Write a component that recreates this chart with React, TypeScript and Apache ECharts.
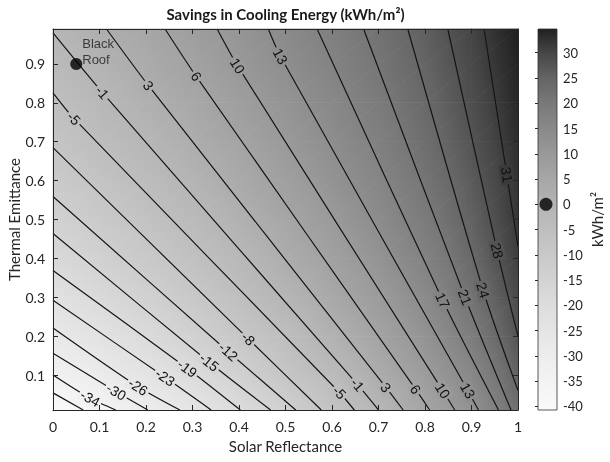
import React, { useEffect, useRef } from "react";
import * as echarts from "echarts";

// ---------- data ----------
const X_GRID = [0, 0.1, 0.2, 0.3, 0.4, 0.5, 0.6, 0.7, 0.8, 0.9, 1];
const Y_GRID = [0.01, 0.1, 0.2, 0.3, 0.4, 0.5, 0.6, 0.7, 0.8, 0.9, 0.99];
// savings (kWh/m2), one row per Y_GRID value, one column per X_GRID value
const Z_GRID = [
  [-40.6, -35.4, -30.2, -24.9, -19.3, -13.4, -7.1, -1.1, 5.5, 12.3, 22.5],
  [-33.6, -28.8, -24.1, -19.5, -13.9, -8.3, -3.4, 2.8, 8.7, 15.5, 25.2],
  [-27.5, -23.2, -18.8, -13.9, -9.0, -4.6, 0.9, 6.2, 11.9, 18.9, 27.8],
  [-22.4, -18.2, -14.0, -9.5, -5.4, -0.6, 4.3, 9.2, 14.7, 21.7, 29.4],
  [-17.9, -14.0, -10.0, -6.1, -1.9, 2.7, 7.0, 11.8, 17.2, 23.8, 31.0],
  [-14.1, -10.3, -6.7, -2.9, 1.2, 5.2, 9.5, 14.1, 19.3, 25.4, 31.9],
  [-10.7, -7.3, -3.7, 0.0, 3.8, 7.6, 11.8, 16.1, 21.1, 26.6, 32.5],
  [-7.9, -4.5, -1.0, 2.5, 5.9, 9.8, 13.7, 17.9, 22.6, 27.7, 33.1],
  [-5.3, -1.9, 1.4, 4.6, 8.1, 11.7, 15.4, 19.4, 23.8, 28.7, 33.7],
  [-2.9, 0.3, 3.4, 6.5, 10.0, 13.4, 16.9, 20.8, 24.9, 29.5, 34.3],
  [-0.9, 2.1, 5.0, 8.1, 11.3, 14.7, 18.2, 21.8, 25.8, 30.2, 34.9],
];

const CONTOUR_LEVELS = [
  -37.16, -33.55, -29.94, -26.33, -22.72, -19.11, -15.5, -11.89, -8.28, -4.67,
  -1.06, 2.55, 6.16, 9.77, 13.38, 16.99, 20.6, 24.21, 27.82, 31.43,
];
// contour paths [solar reflectance, thermal emittance]
const CONTOUR_PATHS = [
  [[0, 0.054], [0.065, 0.01]],
  [[0, 0.1], [0.08, 0.04], [0.135, 0.01]],
  [[0, 0.156], [0.136, 0.057], [0.204, 0.01]],
  [[0, 0.221], [0.183, 0.07], [0.273, 0.01]],
  [[0, 0.292], [0.241, 0.094], [0.34, 0.01]],
  [[0, 0.369], [0.289, 0.117], [0.403, 0.01]],
  [[0, 0.464], [0.336, 0.133], [0.468, 0.01]],
  [[0, 0.559], [0.377, 0.16], [0.522, 0.01]],
  [[0, 0.685], [0.42, 0.193], [0.577, 0.01]],
  [[0, 0.826], [0.045, 0.76], [0.616, 0.055], [0.648, 0.01]],
  [[0, 0.98], [0.106, 0.827], [0.655, 0.075], [0.7, 0.01]],
  [[0.115, 0.99], [0.205, 0.845], [0.716, 0.068], [0.753, 0.01]],
  [[0.241, 0.99], [0.308, 0.868], [0.78, 0.063], [0.81, 0.01]],
  [[0.353, 0.99], [0.397, 0.895], [0.838, 0.06], [0.864, 0.01]],
  [[0.463, 0.99], [0.489, 0.92], [0.892, 0.06], [0.915, 0.01]],
  [[0.568, 0.99], [0.838, 0.292], [0.958, 0.01]],
  [[0.668, 0.99], [0.886, 0.3], [0.985, 0.01]],
  [[0.763, 0.99], [0.925, 0.318], [1.0, 0.06]],
  [[0.849, 0.99], [0.955, 0.42], [1.0, 0.2]],
  [[0.927, 0.99], [0.976, 0.615], [1.0, 0.43]],
];
// which points of each path carry the level label
const CONTOUR_LABEL_POINTS = [
  [], [1], [1], [1], [1], [1], [1], [1], [1], [1, 2],
  [1, 2], [1, 2], [1, 2], [1, 2], [1, 2], [1], [1], [1], [1], [1],
];

const BLACK_ROOF = [0.05, 0.9];
const BLACK_ROOF_SAVINGS = 0;

const X_TICKS_INTERVAL = 0.1;
const Y_TICKS = [0.1, 0.2, 0.3, 0.4, 0.5, 0.6, 0.7, 0.8, 0.9];
const COLORBAR_MIN = -40.7;
const COLORBAR_MAX = 34.7;
const COLORBAR_TICKS = [-40, -35, -30, -25, -20, -15, -10, -5, 0, 5, 10, 15, 20, 25, 30];

// grey colour map: value -> grey level
const COLORMAP_VALUES = [-40.7, -30, -20, -10, 0, 10, 20, 25, 30, 34.7];
const COLORMAP_GRAYS = [250, 237, 221, 201, 180, 153, 121, 100, 70, 32];

// ---------- helpers ----------
const grayLevel = (v: number) => {
  const vs = COLORMAP_VALUES;
  const gs = COLORMAP_GRAYS;
  if (v <= vs[0]) return gs[0];
  if (v >= vs[vs.length - 1]) return gs[gs.length - 1];
  for (let i = 1; i < vs.length; i++) {
    if (v <= vs[i]) {
      const t = (v - vs[i - 1]) / (vs[i] - vs[i - 1]);
      return gs[i - 1] + t * (gs[i] - gs[i - 1]);
    }
  }
  return gs[gs.length - 1];
};
const grayColor = (v: number) => {
  const g = Math.round(grayLevel(v));
  return `rgb(${g},${g},${g})`;
};
const stopsBetween = (v0: number, v1: number) => {
  const stops = [{ offset: 0, color: grayColor(v0) }];
  const lo = Math.min(v0, v1);
  const hi = Math.max(v0, v1);
  const inner: { offset: number; color: string }[] = [];
  COLORMAP_VALUES.forEach((cv) => {
    if (cv > lo && cv < hi) inner.push({ offset: (cv - v0) / (v1 - v0), color: grayColor(cv) });
  });
  inner.sort((a, b) => a.offset - b.offset);
  return stops.concat(inner, [{ offset: 1, color: grayColor(v1) }]);
};

const FONT_AXIS = "Lato, 'Open Sans', sans-serif";
const FONT_PLOT = "'Liberation Sans', Arial, sans-serif";
const AXIS_COLOR = "#262626";

export default function App() {
  const ref = useRef<HTMLDivElement>(null);

  useEffect(() => {
    if (!ref.current) return;
    const chart = echarts.init(ref.current, undefined, { renderer: "svg" });

    const triangles: number[][] = [];
    for (let j = 0; j < Y_GRID.length - 1; j++) {
      for (let i = 0; i < X_GRID.length - 1; i++) {
        const a = [X_GRID[i], Y_GRID[j], Z_GRID[j][i]];
        const b = [X_GRID[i + 1], Y_GRID[j], Z_GRID[j][i + 1]];
        const c = [X_GRID[i + 1], Y_GRID[j + 1], Z_GRID[j + 1][i + 1]];
        const d = [X_GRID[i], Y_GRID[j + 1], Z_GRID[j + 1][i]];
        triangles.push([...a, ...b, ...c]);
        triangles.push([...a, ...c, ...d]);
      }
    }

    const labelData: number[][] = [];
    CONTOUR_PATHS.forEach((path, k) => {
      CONTOUR_LABEL_POINTS[k].forEach((idx) => {
        const p = path[idx];
        const prev = path[idx - 1];
        const next = path[idx + 1];
        labelData.push([p[0], p[1], CONTOUR_LEVELS[k], prev[0], prev[1], next[0], next[1]]);
      });
    });

    const contourSeries = CONTOUR_PATHS.map((path, k) => ({
      type: "line",
      name: "c" + CONTOUR_LEVELS[k],
      xAxisIndex: 0,
      yAxisIndex: 0,
      data: path,
      smooth: 0.25,
      symbol: "none",
      silent: true,
      lineStyle: { color: "#151515", width: 1.2 },
      z: 3,
    }));

    const option: any = {
      animation: false,
      graphic: [
        {
          type: "text",
          x: 285.5,
          y: 14,
          style: {
            text: "Savings in Cooling Energy (kWh/m²)",
            align: "center",
            verticalAlign: "middle",
            fontSize: 15,
            fontWeight: "bold",
            fontFamily: FONT_AXIS,
            fill: "#1a1a1a",
          },
        },
      ],
      grid: [
        { left: 53, top: 29, width: 465, height: 381, outerBoundsMode: "none", containLabel: false },
        { left: 538, top: 29, width: 19, height: 381, outerBoundsMode: "none", containLabel: false },
      ],
      xAxis: [
        {
          gridIndex: 0,
          type: "value",
          min: 0,
          max: 1,
          interval: X_TICKS_INTERVAL,
          position: "bottom",
          axisLine: { show: true, onZero: false, lineStyle: { color: AXIS_COLOR, width: 1 } },
          axisTick: { show: true, inside: true, length: 5, lineStyle: { color: AXIS_COLOR } },
          axisLabel: { color: AXIS_COLOR, fontSize: 14, margin: 9, fontFamily: FONT_AXIS },
          splitLine: { show: false },
          name: "Solar Reflectance",
          nameLocation: "middle",
          nameGap: 28,
          nameMoveOverlap: false,
          nameTextStyle: { fontSize: 15, color: AXIS_COLOR, fontFamily: FONT_AXIS },
          z: 10,
        },
        {
          gridIndex: 0,
          type: "value",
          min: 0,
          max: 1,
          interval: X_TICKS_INTERVAL,
          position: "top",
          axisLine: { show: true, onZero: false, lineStyle: { color: AXIS_COLOR, width: 1 } },
          axisTick: { show: true, inside: true, length: 5, lineStyle: { color: AXIS_COLOR } },
          axisLabel: { show: false },
          splitLine: { show: false },
          z: 10,
        },
        { gridIndex: 1, type: "value", min: 0, max: 1, show: false },
      ],
      yAxis: [
        {
          gridIndex: 0,
          type: "value",
          min: 0.01,
          max: 0.99,
          position: "left",
          axisLine: { show: true, onZero: false, lineStyle: { color: AXIS_COLOR, width: 1 } },
          axisTick: { show: true, inside: true, length: 5, customValues: Y_TICKS, lineStyle: { color: AXIS_COLOR } },
          axisLabel: { customValues: Y_TICKS, color: AXIS_COLOR, fontSize: 14, margin: 8, fontFamily: FONT_AXIS },
          splitLine: { show: false },
          name: "Thermal Emittance",
          nameLocation: "middle",
          nameGap: 32,
          nameMoveOverlap: false,
          nameTextStyle: { fontSize: 15, color: AXIS_COLOR, fontFamily: FONT_AXIS },
          z: 10,
        },
        {
          gridIndex: 0,
          type: "value",
          min: 0.01,
          max: 0.99,
          position: "right",
          axisLine: { show: true, onZero: false, lineStyle: { color: AXIS_COLOR, width: 1 } },
          axisTick: { show: true, inside: true, length: 5, customValues: Y_TICKS, lineStyle: { color: AXIS_COLOR } },
          axisLabel: { show: false },
          splitLine: { show: false },
          z: 10,
        },
        {
          gridIndex: 1,
          type: "value",
          min: COLORBAR_MIN,
          max: COLORBAR_MAX,
          position: "right",
          axisLine: { show: false },
          axisTick: { show: true, inside: true, length: 3, customValues: COLORBAR_TICKS, lineStyle: { color: AXIS_COLOR } },
          axisLabel: { customValues: COLORBAR_TICKS, color: AXIS_COLOR, fontSize: 13, margin: 6, fontFamily: FONT_AXIS },
          splitLine: { show: false },
          name: "kWh/m²",
          nameLocation: "middle",
          nameRotate: 90,
          nameGap: 32,
          nameTextStyle: { fontSize: 15, color: AXIS_COLOR, fontFamily: FONT_AXIS },
          z: 10,
        },
      ],
      series: [
        {
          type: "custom",
          name: "surface",
          xAxisIndex: 0,
          yAxisIndex: 0,
          silent: true,
          z: 1,
          data: triangles,
          encode: { x: [0, 3, 6], y: [1, 4, 7] },
          renderItem: (params: any, api: any) => {
            const pts: number[][] = [];
            const vals: number[] = [];
            for (let k = 0; k < 3; k++) {
              pts.push(api.coord([api.value(3 * k), api.value(3 * k + 1)]));
              vals.push(api.value(3 * k + 2));
            }
            const [x1, y1] = pts[0];
            const [x2, y2] = pts[1];
            const [x3, y3] = pts[2];
            const [v1, v2, v3] = vals;
            const det = (x2 - x1) * (y3 - y1) - (x3 - x1) * (y2 - y1);
            const gx = ((v2 - v1) * (y3 - y1) - (v3 - v1) * (y2 - y1)) / det;
            const gy = ((x2 - x1) * (v3 - v1) - (x3 - x1) * (v2 - v1)) / det;
            const g2 = gx * gx + gy * gy;
            let fill: any = grayColor(v1);
            if (g2 > 1e-12) {
              const vmin = Math.min(v1, v2, v3);
              const vmax = Math.max(v1, v2, v3);
              const ax = x1 + (gx * (vmin - v1)) / g2;
              const ay = y1 + (gy * (vmin - v1)) / g2;
              const bx = x1 + (gx * (vmax - v1)) / g2;
              const by = y1 + (gy * (vmax - v1)) / g2;
              fill = new echarts.graphic.LinearGradient(ax, ay, bx, by, stopsBetween(vmin, vmax), true);
            }
            return {
              type: "polygon",
              shape: { points: pts },
              style: { fill, stroke: fill, lineWidth: 0.8 },
              silent: true,
            };
          },
        },
        ...contourSeries,
        {
          type: "custom",
          name: "labels",
          xAxisIndex: 0,
          yAxisIndex: 0,
          silent: true,
          z: 4,
          data: labelData,
          renderItem: (params: any, api: any) => {
            const p = api.coord([api.value(0), api.value(1)]);
            const a = api.coord([api.value(3), api.value(4)]);
            const b = api.coord([api.value(5), api.value(6)]);
            let ang = Math.atan2(b[1] - a[1], b[0] - a[0]);
            if (ang > Math.PI / 2) ang -= Math.PI;
            if (ang < -Math.PI / 2) ang += Math.PI;
            const lv = api.value(2);
            return {
              type: "text",
              x: p[0],
              y: p[1],
              rotation: -ang,
              silent: true,
              style: {
                text: String(Math.round(lv)),
                fill: "#111",
                fontSize: 14,
                fontFamily: FONT_PLOT,
                align: "center",
                verticalAlign: "middle",
                backgroundColor: grayColor(lv),
                padding: [0, 2],
              },
            };
          },
        },
        {
          type: "scatter",
          name: "Black Roof",
          xAxisIndex: 0,
          yAxisIndex: 0,
          data: [BLACK_ROOF],
          symbolSize: 12,
          itemStyle: { color: "#000" },
          z: 5,
          label: {
            show: true,
            formatter: "Black\nRoof",
            position: [12, -22],
            align: "left",
            verticalAlign: "top",
            fontSize: 13,
            lineHeight: 16,
            color: "#1a1a1a",
            fontFamily: FONT_PLOT,
          },
        },
        {
          type: "custom",
          name: "colorbar",
          xAxisIndex: 2,
          yAxisIndex: 2,
          silent: true,
          z: 1,
          data: [[0, COLORBAR_MIN, 1, COLORBAR_MAX]],
          renderItem: (params: any, api: any) => {
            const tl = api.coord([api.value(0), api.value(3)]);
            const br = api.coord([api.value(2), api.value(1)]);
            const grad = new echarts.graphic.LinearGradient(
              0, tl[1], 0, br[1],
              stopsBetween(api.value(3), api.value(1)),
              true
            );
            return {
              type: "rect",
              shape: { x: tl[0], y: tl[1], width: br[0] - tl[0], height: br[1] - tl[1] },
              style: { fill: grad, stroke: "#303030", lineWidth: 0.8 },
            };
          },
        },
        {
          type: "scatter",
          name: "Black Roof marker",
          xAxisIndex: 2,
          yAxisIndex: 2,
          data: [[0.42, BLACK_ROOF_SAVINGS]],
          symbolSize: 13,
          itemStyle: { color: "#000" },
          z: 6,
        },
      ],
    };

    chart.setOption(option);
    return () => chart.dispose();
  }, []);

  return (
    <div
      ref={ref}
      style={{ position: "fixed", left: 0, top: 0, width: 610, height: 462 }}
    />
  );
}
